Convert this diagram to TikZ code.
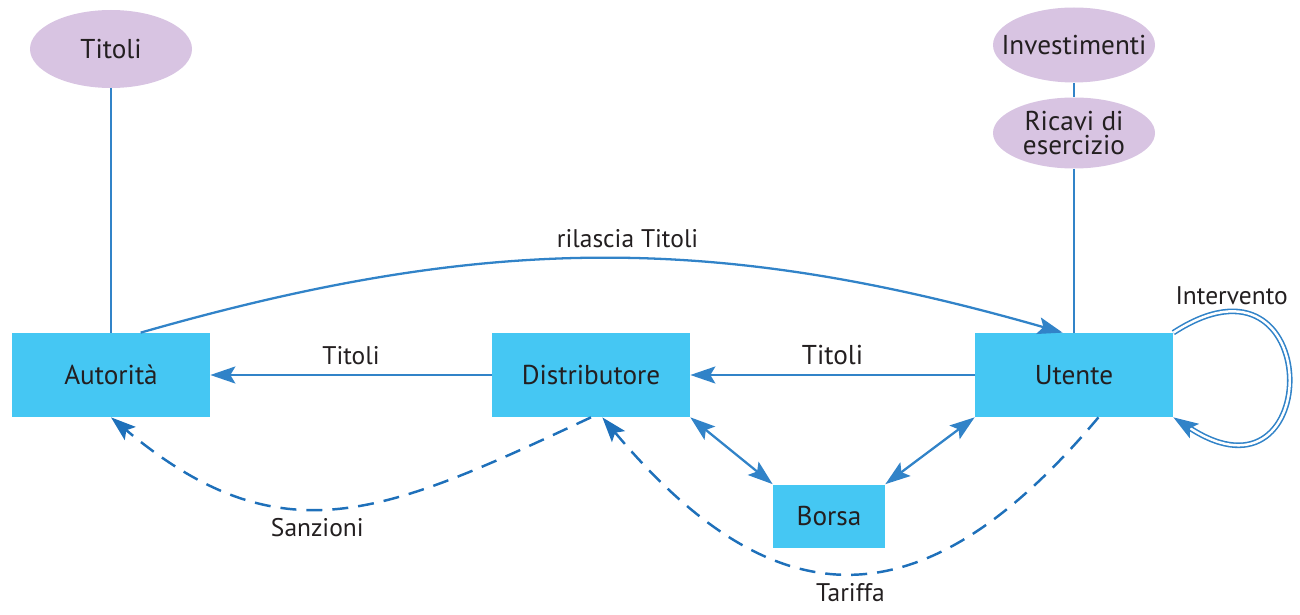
\documentclass[tikz,border=0pt]{standalone}
\usepackage{fontspec}
\setmainfont{PT Sans}
\usepackage{tikz}
\usetikzlibrary{arrows.meta,shapes.geometric}
\definecolor{boxblue}{RGB}{69,199,243}
\definecolor{lilac}{RGB}{216,196,226}
\definecolor{linkblue}{RGB}{49,131,200}
\definecolor{dashblue}{RGB}{30,112,186}
\definecolor{ink}{RGB}{35,31,32}

\begin{document}
\begin{tikzpicture}[font=\fontsize{14.5}{16}\selectfont,text=ink,
  >={Stealth[length=5mm,width=3.4mm,inset=1mm]},
  box/.style={rectangle,fill=boxblue,minimum width=3.96cm,minimum height=1.68cm,
    font=\fontsize{15.5}{17}\selectfont},
  bubble/.style={ellipse,fill=lilac,minimum width=3.24cm,minimum height=1.5cm,
    inner sep=0pt,align=center,font=\fontsize{15.5}{17}\selectfont},
  link/.style={draw=linkblue,line width=1.3pt},
  flow/.style={draw=dashblue,line width=1.4pt,dash pattern=on 3.2mm off 2mm}]
  \useasboundingbox (0,0) rectangle (26,-12.3);

  \node [bubble,minimum height=1.56cm] (tit) at (2.22,-0.98) {Titoli};
  \node [bubble,inner xsep=-5mm] (inv) at (21.48,-0.9) {Investimenti};
  \node [bubble,minimum height=1.42cm,inner xsep=-3mm,font=\fontsize{15.5}{14}\selectfont] (ric) at (21.48,-2.66) {Ricavi di\\esercizio};

  \node [box] (aut) at (2.22,-7.5) {Autorità};
  \node [box] (dist) at (11.82,-7.5) {Distributore};
  \node [box] (ut) at (21.48,-7.5) {Utente};
  \node [box,minimum width=2.24cm,minimum height=1.26cm] (bor) at (16.58,-10.32) {Borsa};

  \draw [link] (tit) -- (aut);
  \draw [link] (inv) -- (ric);
  \draw [link] (ric) -- (ut);

  \draw [link,->] (aut.55) to[bend left=16] node[above=2pt,pos=0.53] {rilascia Titoli} (ut.105);
  \draw [link,->] (dist) -- node[above=2pt] {Titoli} (aut);
  \draw [link,->] (ut) -- node[above=2pt,font=\fontsize{15.5}{17}\selectfont] {Titoli} (dist);
  \draw [link,<->] (dist.south east) -- (bor.north west);
  \draw [link,<->] (bor.north east) -- (ut.south west);
  \draw [link,->,double=white,double distance=1.4pt,line width=0.9pt]
    (ut.north east) to[out=33,in=-33,looseness=5.5] node[above,pos=0.15] {Intervento} (ut.south east);

  \draw [flow,->] (dist.south) to[out=-155,in=-40,looseness=1.2] node[below=2pt,pos=0.55] {Sanzioni} (aut.south);
  \draw [flow,->] (ut.-60) to[out=-130,in=-50,looseness=1.4] node[below=2pt] {Tariffa} (dist.-75);
\end{tikzpicture}
\end{document}
